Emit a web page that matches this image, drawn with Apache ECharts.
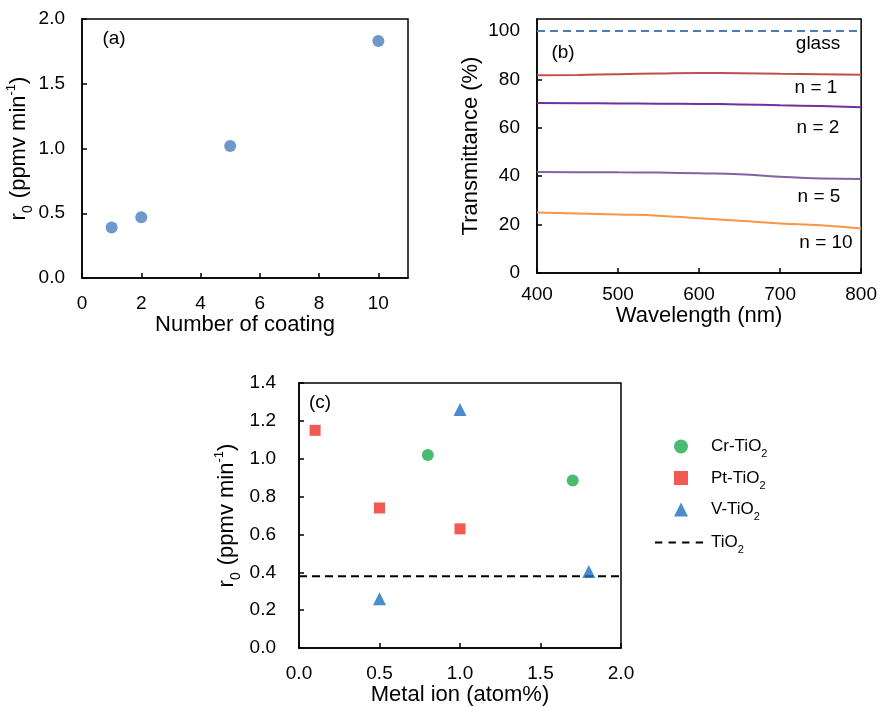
<!DOCTYPE html>
<html><head><meta charset="utf-8">
<script src="https://cdn.jsdelivr.net/npm/echarts@6/dist/echarts.min.js"></script>
<style>html,body{margin:0;padding:0;background:#fff}#c{width:880px;height:707px}</style>
</head><body><div id="c"></div>
<script>
// (a) r0 vs number of coatings
const coatN = [1, 2, 5, 10];
const coatR0 = [0.39, 0.47, 1.02, 1.83];
// (b) transmittance spectra
const wavelength = [400, 450, 500, 550, 600, 650, 700, 750, 800];
const glassX = [400, 800];
const glassT = [100, 100];
const tN1 = [81.7, 81.9, 82.2, 82.5, 82.7, 82.6, 82.4, 82.2, 82.0];
const tN2 = [70.3, 70.2, 70.1, 70.0, 69.9, 69.7, 69.3, 69.0, 68.5];
const tN5 = [41.8, 41.7, 41.6, 41.5, 41.2, 40.8, 39.8, 39.1, 38.9];
const tN10 = [25.0, 24.6, 24.2, 23.7, 22.6, 21.6, 20.5, 19.7, 18.4];
// (c) metal-doped TiO2
const crX = [0.8, 1.7], crY = [1.02, 0.885];
const ptX = [0.1, 0.5, 1.0], ptY = [1.15, 0.74, 0.63];
const vX = [0.5, 1.0, 1.8], vY = [0.26, 1.26, 0.405];
const tioX = [0, 2], tioY = [0.38, 0.38];
const markerNames = ['Cr-TiO2', 'Pt-TiO2', 'V-TiO2'];
const lineNames = ['TiO2'];

const FONT = '"Liberation Sans", Arial, sans-serif';
const TICK = 19, NAME = 22;
const zip = (xs, ys) => xs.map((x, i) => [x, ys[i]]);
const r0Name = '{r|r}{sub|0}{r| (ppmv min}{sup|-1}{r|)}';
const nameRich = {
  r: {fontSize: NAME, fontFamily: FONT, color: '#000', lineHeight: 26},
  sub: {fontSize: 14, fontFamily: FONT, color: '#000', lineHeight: 26, verticalAlign: 'bottom', padding: [0, 1, -3, 0]},
  sup: {fontSize: 13, fontFamily: FONT, color: '#000', lineHeight: 26, verticalAlign: 'top', padding: [-1, 0, 0, 0]}
};

function axis(opts, labelOpts) {
  return Object.assign({
    type: 'value',
    nameLocation: 'middle',
    nameTextStyle: {fontSize: NAME, fontFamily: FONT, color: '#000', rich: nameRich},
    axisLine: {show: true, onZero: false, lineStyle: {color: '#000', width: 1.5}},
    axisTick: {show: true, inside: true, length: 5, lineStyle: {color: '#000', width: 1.5}},
    axisLabel: Object.assign({fontSize: TICK, fontFamily: FONT, color: '#000', margin: 14}, labelOpts || {}),
    splitLine: {show: false}
  }, opts);
}
const fix1 = v => v.toFixed(1);
const txt = (text, x, y) => ({type: 'text', style: {text, x, y, font: TICK + 'px ' + FONT, fill: '#000', textAlign: 'center', textVerticalAlign: 'middle'}});
const legendText = (pad) => ({
  fontSize: 17, fontFamily: FONT, color: '#000', padding: [0, 0, 0, pad],
  rich: {
    t: {fontSize: 17, fontFamily: FONT, color: '#000', lineHeight: 22},
    s: {fontSize: 11, fontFamily: FONT, color: '#000', lineHeight: 22, verticalAlign: 'bottom', padding: [0, 0, -2, 0]}
  }
});
const legendFmt = n => '{t|' + n.replace('TiO2', 'TiO') + '}{s|2}';

const chart = echarts.init(document.getElementById('c'));
chart.setOption({
  animation: false,
  backgroundColor: '#fff',
  grid: [
    {left: 82, top: 19, width: 326, height: 259, show: true, borderColor: '#000', borderWidth: 1.5},
    {left: 537, top: 19, width: 327, height: 254, show: true, borderColor: '#000', borderWidth: 1.5},
    {left: 299, top: 383, width: 322, height: 266, show: true, borderColor: '#000', borderWidth: 1.5}
  ],
  xAxis: [
    axis({gridIndex: 0, min: 0, max: 11, interval: 2, name: 'Number of coating', nameGap: 35}, {margin: 16, showMaxLabel: false}),
    axis({gridIndex: 1, min: 400, max: 800, interval: 100, name: 'Wavelength (nm)', nameGap: 32}, {margin: 12}),
    axis({gridIndex: 2, min: 0, max: 2, interval: 0.5, name: 'Metal ion (atom%)', nameGap: 29}, {margin: 16, formatter: fix1})
  ],
  yAxis: [
    axis({gridIndex: 0, min: 0, max: 2, interval: 0.5, name: r0Name, nameGap: 48}, {margin: 17, formatter: fix1}),
    axis({gridIndex: 1, min: 0, max: 105, interval: 20, name: 'Transmittance (%)', nameGap: 55}, {margin: 17, showMaxLabel: false}),
    axis({gridIndex: 2, min: 0, max: 1.4, interval: 0.2, name: r0Name, nameGap: 59}, {margin: 23, formatter: fix1})
  ],
  legend: [
    {orient: 'vertical', left: 674, top: 438, padding: 0, itemWidth: 14, itemHeight: 14, itemGap: 10,
      data: markerNames, formatter: legendFmt, textStyle: legendText(18)},
    {orient: 'vertical', left: 655, top: 534, padding: 0, itemWidth: 48, itemHeight: 14, itemGap: 10,
      data: [{name: lineNames[0], icon: 'path://M0,0h7v2h-7z M13,0h7v2h-7z M26,0h7v2h-7z M39,0h7v2h-7z'}],
      itemStyle: {color: '#000'},
      formatter: legendFmt, textStyle: legendText(3)}
  ],
  series: [
    {type: 'scatter', xAxisIndex: 0, yAxisIndex: 0, data: zip(coatN, coatR0), symbol: 'circle', symbolSize: 12,
      itemStyle: {color: '#4a7ebb'}},
    {type: 'line', xAxisIndex: 1, yAxisIndex: 1, data: zip(glassX, glassT), symbol: 'none',
      lineStyle: {color: '#4a7ebb', width: 2, type: [8, 5]}},
    {type: 'line', xAxisIndex: 1, yAxisIndex: 1, data: zip(wavelength, tN1), symbol: 'none', smooth: true,
      lineStyle: {color: '#c0504d', width: 2}},
    {type: 'line', xAxisIndex: 1, yAxisIndex: 1, data: zip(wavelength, tN2), symbol: 'none', smooth: true,
      lineStyle: {color: '#7030a0', width: 2}},
    {type: 'line', xAxisIndex: 1, yAxisIndex: 1, data: zip(wavelength, tN5), symbol: 'none', smooth: true,
      lineStyle: {color: '#8064a2', width: 2}},
    {type: 'line', xAxisIndex: 1, yAxisIndex: 1, data: zip(wavelength, tN10), symbol: 'none', smooth: true,
      lineStyle: {color: '#f79646', width: 2}},
    {name: markerNames[0], type: 'scatter', xAxisIndex: 2, yAxisIndex: 2, data: zip(crX, crY), symbol: 'circle', symbolSize: 12,
      itemStyle: {color: '#1faa4f'}},
    {name: markerNames[1], type: 'scatter', xAxisIndex: 2, yAxisIndex: 2, data: zip(ptX, ptY), symbol: 'rect', symbolSize: 11,
      itemStyle: {color: '#ee3128'}},
    {name: markerNames[2], type: 'scatter', xAxisIndex: 2, yAxisIndex: 2, data: zip(vX, vY), symbol: 'triangle', symbolSize: 13,
      itemStyle: {color: '#1f6fbf'}},
    {name: lineNames[0], type: 'line', xAxisIndex: 2, yAxisIndex: 2, data: zip(tioX, tioY), symbol: 'none', z: 1,
      itemStyle: {color: '#000'}, lineStyle: {color: '#000', width: 2, type: [8, 5]}}
  ],
  graphic: [
    txt('(a)', 114, 39), txt('(b)', 563, 53), txt('(c)', 320, 403),
    txt('glass', 818, 44), txt('n = 1', 816, 88), txt('n = 2', 818, 128),
    txt('n = 5', 819, 197), txt('n = 10', 826, 243)
  ]
});
</script></body></html>
